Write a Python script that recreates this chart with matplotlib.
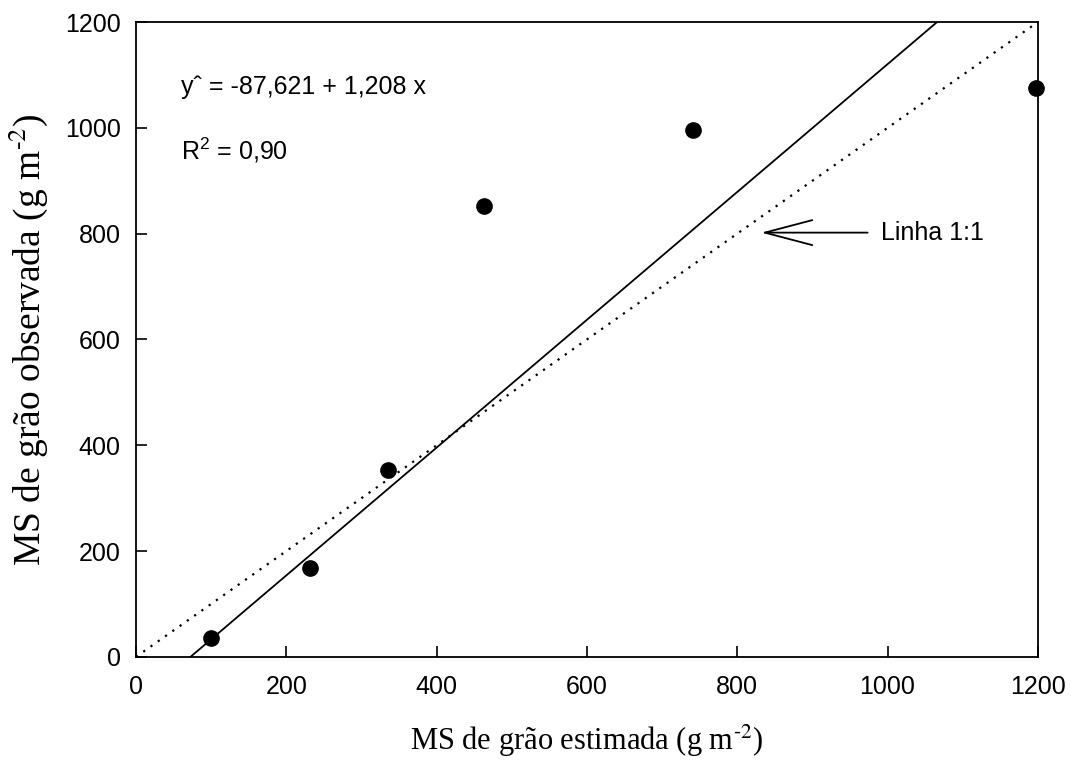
import numpy as np
import matplotlib
matplotlib.use("Agg")
from matplotlib import pyplot as plt

# observed vs estimated grain dry matter (g m-2)
estimada = [100, 231, 335, 463, 741, 1197]
observada = [36, 168, 353, 853, 996, 1076]

intercepto = -87.621
inclinacao = 1.208

plt.rcParams['font.family'] = ['Liberation Sans', 'DejaVu Sans']
plt.rcParams['mathtext.fontset'] = 'custom'
plt.rcParams['mathtext.rm'] = 'Liberation Sans'
plt.rcParams['mathtext.it'] = 'Liberation Sans:italic'

fig = plt.figure(figsize=(10.71, 7.62), dpi=100)
ax = fig.add_axes([0.127, 0.138, 0.842, 0.833])

# fitted line, from y=0 to y=1200
x0 = -intercepto / inclinacao
x1 = (1200 - intercepto) / inclinacao
xr = np.array([x0, x1])
ax.plot(xr, intercepto + inclinacao * xr, color='black', lw=1.3)

# 1:1 line
ax.plot([0, 1200], [0, 1200], color='black', lw=1.6, linestyle=(0, (1, 3)))

ax.plot(estimada, observada, 'o', color='black', ms=11, clip_on=False, zorder=5)

ax.set_xlim(0, 1200)
ax.set_ylim(0, 1200)
ax.set_xticks(range(0, 1201, 200))
ax.set_yticks(range(0, 1201, 200))
ax.tick_params(direction='in', length=8, width=1.2, labelsize=18)
ax.tick_params(axis='x', pad=13)
ax.tick_params(axis='y', pad=11)
for s in ax.spines.values():
    s.set_linewidth(1.3)

serif = ['Liberation Serif', 'DejaVu Serif']
ax.set_xlabel('MS de grão estimada (g m$^{\u2010 2}$)', fontsize=22, family=serif,
              math_fontfamily='stix', labelpad=17)
ax.set_ylabel('MS de grão observada (g m$^{\u2010 2}$)', fontsize=27, family=serif,
              math_fontfamily='stix', labelpad=11)

ax.text(60, 1077, 'y\u02c6 = -87,621 + 1,208 x', fontsize=18, va='center')
ax.text(60, 958, 'R$^2$ = 0,90', fontsize=18, va='center')

ax.annotate('Linha 1:1', xy=(832, 802), xytext=(992, 802), fontsize=18, va='center',
            arrowprops=dict(arrowstyle='->,head_length=1.9,head_width=0.5',
                            color='black', lw=1.3, shrinkA=8, shrinkB=0))

fig.savefig('out.png', dpi=100)
